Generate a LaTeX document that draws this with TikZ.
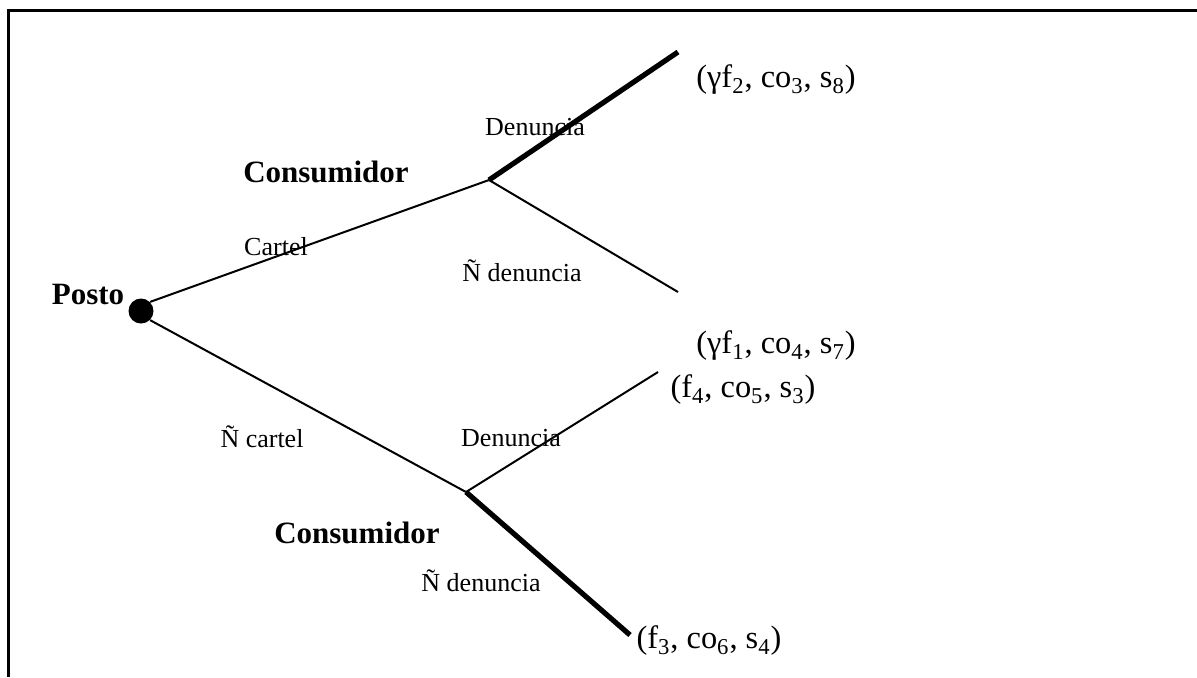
\documentclass[tikz,border=0pt]{standalone}
\usepackage{fontspec}
\setmainfont{Liberation Serif}
\begin{document}
\begin{tikzpicture}[x=0.5pt,y=-0.5pt,
  move/.style={line width=1pt},
  chosen/.style={line width=2.6pt},
  lbl/.style={font=\fontsize{13}{15}\selectfont, inner sep=0pt},
  player/.style={font=\fontsize{15.5}{18}\selectfont\bfseries, inner sep=0pt},
  payoff/.style={font=\fontsize{16.2}{19}\selectfont, inner sep=0pt},
  frame/.style={line width=1.5pt}]
\useasboundingbox (0,0) rectangle (1197,677);

% open frame: top and left edges only
\coordinate (fa) at (8,677);
\coordinate (fb) at (8,10);
\coordinate (fc) at (1197,10);
\draw[frame] (fa) -- (fb) -- (fc);

% decision nodes
\node[circle, fill=black, minimum size=12.5pt, inner sep=0pt] (root) at (141,311) {};
\coordinate (c1) at (489,180);
\coordinate (c2) at (466,492);

% ends of the branches
\coordinate (l1) at (678,52);
\coordinate (l2) at (678,292);
\coordinate (l3) at (658,372);
\coordinate (l4) at (630,635);

% branches
\draw[move] (root.45) -- (c1);
\draw[move] (root.-45) -- (c2);
\draw[chosen] (c1) -- (l1);
\draw[move] (c1) -- (l2);
\draw[move] (c2) -- (l3);
\draw[chosen] (c2) -- (l4);

% players
\node[player] (pposto) at (88,294) {Posto};
\node[player] (pcons1) at (326,172) {Consumidor};
\node[player] (pcons2) at (357,533) {Consumidor};

% actions
\node[lbl] (acartel) at (276,247) {Cartel};
\node[lbl] (ancartel) at (262,437) {Ñ cartel};
\node[lbl] (aden1) at (535,127) {Denuncia};
\node[lbl] (anden1) at (522,271) {Ñ denuncia};
\node[lbl] (aden2) at (511,438) {Denuncia};
\node[lbl] (anden2) at (481,581) {Ñ denuncia};

% payoffs
\node[payoff] (p1) at (776,80) {(γf\textsubscript{2}, co\textsubscript{3}, s\textsubscript{8})};
\node[payoff] (p2) at (776,346) {(γf\textsubscript{1}, co\textsubscript{4}, s\textsubscript{7})};
\node[payoff] (p3) at (743,390) {(f\textsubscript{4}, co\textsubscript{5}, s\textsubscript{3})};
\node[payoff] (p4) at (709,641) {(f\textsubscript{3}, co\textsubscript{6}, s\textsubscript{4})};
\end{tikzpicture}
\end{document}
